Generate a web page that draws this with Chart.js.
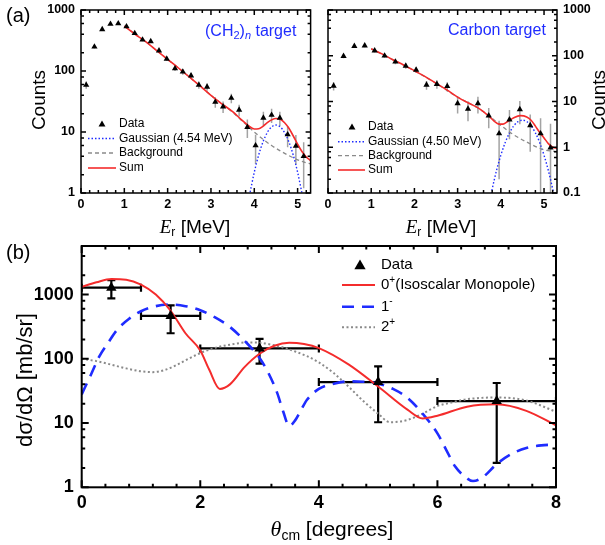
<!DOCTYPE html>
<html>
<head>
<meta charset="utf-8">
<script src="https://cdn.jsdelivr.net/npm/chart.js@4.4.1/dist/chart.umd.min.js"></script>
<style>
  html, body { margin: 0; padding: 0; background: #fff; }
  #wrap { position: relative; width: 605px; height: 545px; overflow: hidden; }
  canvas { position: absolute; }
</style>
</head>
<body>
<div id="wrap">
  <canvas id="cA1" width="318" height="245" style="left:0;top:0"></canvas>
  <canvas id="cA2" width="287" height="245" style="left:318px;top:0"></canvas>
  <canvas id="cB" width="605" height="305" style="left:0;top:240px"></canvas>
</div>
<script>
// ---- (a) (CH2)n target: measured counts + fit components
const ch2E      = [0.12, 0.31, 0.49, 0.68, 0.86, 1.05, 1.24, 1.42, 1.61, 1.80, 1.98, 2.17, 2.35, 2.54, 2.72, 2.91, 3.10, 3.28, 3.47, 3.65, 3.84, 4.03, 4.21, 4.40, 4.59, 4.77, 4.96, 5.14];
const ch2Counts = [59, 250, 480, 590, 600, 535, 415, 325, 306, 215, 158, 110, 97, 84, 59, 55, 31, 26, 36, 23, 12, 6, 17, 19, 17, 9.1, 5.9, 4.0];
const ch2Err    = [8, 16, 22, 24, 24, 23, 20, 18, 17, 15, 12, 10, 10, 9, 8, 7.5, 6, 5.5, 6.5, 5, 4, 3, 4.5, 5, 4.5, 3.5, 3, 2.8];
const ch2SumE   = [1.0, 1.25, 1.5, 1.75, 2.0, 2.25, 2.5, 2.75, 3.0, 3.25, 3.5, 3.7, 3.85, 4.0, 4.1, 4.2, 4.3, 4.4, 4.5, 4.6, 4.7, 4.8, 4.9, 5.0, 5.1, 5.2, 5.3];
const ch2Sum    = [545, 400, 300, 215, 155, 112, 80, 57, 40, 29, 21.5, 16, 13, 11.2, 11.3, 12.4, 14.2, 15.8, 16.6, 16.2, 14.2, 11.5, 8.6, 6.3, 4.8, 3.9, 3.4];
const ch2BgE    = [1.0, 1.5, 2.0, 2.5, 3.0, 3.5, 3.8, 4.0, 4.2, 4.4, 4.6, 4.8, 5.0, 5.15, 5.3];
const ch2Bg     = [545, 300, 155, 80, 40, 21, 13.5, 10, 7.6, 6.0, 4.9, 4.1, 3.5, 3.2, 3.0];
const ch2GausE  = [3.87, 3.9, 4.0, 4.1, 4.2, 4.3, 4.4, 4.5, 4.6, 4.7, 4.8, 4.9, 5.0, 5.1, 5.13];
const ch2Gaus   = [0.8, 1.0, 2.19, 4.16, 6.85, 9.8, 12.1, 13, 12.1, 9.8, 6.85, 4.16, 2.19, 1.0, 0.8];

// ---- (a) Carbon target
const cE      = [0.13, 0.36, 0.61, 0.85, 1.08, 1.31, 1.56, 1.80, 2.04, 2.28, 2.52, 2.76, 3.00, 3.24, 3.47, 3.72, 3.96, 4.20, 4.44, 4.68, 4.92, 5.15];
const cCounts = [22, 98, 162, 166, 129, 100, 74, 60, 49, 23, 24, 21.5, 9.1, 6.9, 9.1, 4.9, 2.0, 4.0, 6.7, 3.0, 2.0, 0.98];
const cErr    = [4.5, 10, 13, 13, 11, 10, 8.5, 8, 7, 5, 5, 5, 3.6, 3.2, 3.6, 2.3, 1.8, 2.5, 3.5, 2.2, 2.3, 2.3];
const cSumE   = [1.0, 1.25, 1.5, 1.75, 2.0, 2.25, 2.5, 2.75, 3.0, 3.25, 3.5, 3.7, 3.85, 3.95, 4.05, 4.15, 4.3, 4.45, 4.6, 4.7, 4.8, 4.9, 5.0, 5.1, 5.2, 5.3];
const cSum    = [142, 110, 82, 63, 47, 35, 25, 18, 12.5, 9.3, 7, 5, 3.7, 3.2, 3.2, 3.6, 4.4, 4.9, 4.6, 3.9, 2.9, 2.1, 1.6, 1.2, 1.0, 0.95];
const cBgE    = [1.0, 1.5, 2.0, 2.5, 3.0, 3.5, 3.8, 4.0, 4.25, 4.6, 5.0, 5.3];
const cBg     = [142, 82, 47, 25, 12.5, 6.9, 4.3, 3.0, 2.0, 1.3, 0.88, 0.8];
const cGausE  = [3.76, 3.8, 3.9, 4.0, 4.1, 4.2, 4.3, 4.4, 4.5, 4.6, 4.7, 4.8, 4.9, 5.0, 5.1, 5.2, 5.24];
const cGaus   = [0.08, 0.122, 0.31, 0.667, 1.26, 2.06, 2.94, 3.63, 3.9, 3.63, 2.94, 2.06, 1.26, 0.667, 0.31, 0.122, 0.08];

// ---- (b) angular distribution
const theta    = [0.5, 1.5, 3, 5, 7];
const thetaErr = [0.5, 0.5, 1, 1, 1];
const xsec     = [1280, 465, 145, 43.5, 22];
const xsecLow  = [870, 250, 84, 10.3, 2.4];
const xsecHigh = [1680, 680, 204, 76, 42];
const monoT = [0, 0.25, 0.5, 0.75, 1.0, 1.25, 1.5, 1.75, 2.0, 2.15, 2.33, 2.5, 2.75, 3.0, 3.25, 3.5, 3.75, 4.0, 4.5, 5.0, 5.5, 5.75, 6.0, 6.5, 7.0, 7.5, 8.0];
const mono  = [1320, 1550, 1740, 1700, 1430, 1000, 560, 250, 135, 68, 34, 40, 75, 120, 160, 178, 170, 147, 82, 37, 16, 11.8, 13, 18, 19.6, 15.5, 9.2];
const dipT  = [0, 0.15, 0.3, 0.45, 0.6, 0.8, 1.0, 1.25, 1.5, 1.75, 2.0, 2.25, 2.5, 2.75, 3.0, 3.15, 3.3, 3.4, 3.5, 3.6, 3.7, 3.8, 4.0, 4.25, 4.5, 4.75, 5.0, 5.25, 5.5, 5.75, 6.0, 6.15, 6.3, 6.45, 6.6, 6.75, 7.0, 7.25, 7.5, 7.75, 8.0];
const dip   = [28, 55, 110, 180, 285, 420, 550, 660, 700, 660, 570, 440, 313, 190, 103, 60, 29, 15, 9, 11, 16, 23, 34, 41, 44.5, 44, 41, 34, 24.5, 14, 6.9, 3.8, 2.1, 1.5, 1.25, 1.4, 2.3, 3.3, 4.1, 4.5, 4.6];
const quadT = [0, 0.25, 0.5, 0.75, 1.0, 1.2, 1.4, 1.6, 1.8, 2.0, 2.25, 2.5, 2.8, 3.0, 3.2, 3.4, 3.6, 3.8, 4.0, 4.25, 4.5, 4.75, 5.0, 5.2, 5.35, 5.5, 5.75, 6.0, 6.25, 6.5, 7.0, 7.5, 8.0];
const quad  = [100, 92, 81, 71, 64, 62, 67, 80, 100, 123, 148, 166, 180, 178, 166, 150, 130, 110, 88, 60, 37, 22, 14, 10.3, 10.5, 11.2, 14, 18.4, 21, 23.5, 25, 22.4, 15];

// tick labels
const aTicksX = [0, 1, 2, 3, 4, 5];
const aTicksY1 = [1, 10, 100, 1000];
const aTicksY2 = [0.1, 1, 10, 100, 1000];
const bTicksX = [0, 2, 4, 6, 8];
const bTicksY = [1, 10, 100, 1000];

const SANS = '"Liberation Sans", Arial, Helvetica, sans-serif';
const SERIF = '"Liberation Serif", "Times New Roman", serif';
const RED = '#f42c2c', BLUE = '#1f2cff', GRAY = '#8a8a8a';

const pts = (xs, ys) => xs.map((x, i) => ({ x, y: ys[i] }));
const range = (a, b, step) => { const out = []; for (let v = a; v <= b + 1e-9; v += step) out.push(+v.toFixed(4)); return out; };
const logMinor = (decades, muls) => decades.flatMap(d => muls.map(m => d * m));

const curve = (xs, ys, color, width, dash, order) => ({
  data: pts(xs, ys), showLine: true, borderColor: color, borderWidth: width,
  borderDash: dash, pointRadius: 0, cubicInterpolationMode: 'monotone', order
});
const marks = (xs, ys, r) => ({
  data: pts(xs, ys), showLine: false, pointStyle: 'triangle', pointRadius: r,
  backgroundColor: '#000', borderColor: '#000', borderWidth: 0, order: 0
});

// text with sub/superscripts: parts = [text, font, dy]
function rich(ctx, parts, x, y, align) {
  let w = 0;
  parts.forEach(p => { ctx.font = p[1]; w += ctx.measureText(p[0]).width; });
  let cx = align === 'center' ? x - w / 2 : x;
  ctx.textAlign = 'left';
  ctx.textBaseline = 'middle';
  parts.forEach(p => { ctx.font = p[1]; ctx.fillText(p[0], cx, y + (p[2] || 0)); cx += ctx.measureText(p[0]).width; });
}
function rotated(ctx, parts, x, y) {
  ctx.save();
  ctx.translate(x, y);
  ctx.rotate(-Math.PI / 2);
  rich(ctx, parts, 0, 0, 'center');
  ctx.restore();
}
function triangle(ctx, x, y, r) {
  ctx.beginPath();
  ctx.moveTo(x, y - r);
  ctx.lineTo(x + r * Math.sin(2 * Math.PI / 3), y - r * Math.cos(2 * Math.PI / 3));
  ctx.lineTo(x + r * Math.sin(4 * Math.PI / 3), y - r * Math.cos(4 * Math.PI / 3));
  ctx.closePath();
  ctx.fillStyle = '#000';
  ctx.fill();
}
function sample(ctx, x0, x1, y, color, width, dash) {
  ctx.save();
  ctx.strokeStyle = color; ctx.lineWidth = width; ctx.setLineDash(dash);
  ctx.beginPath(); ctx.moveTo(x0, y); ctx.lineTo(x1, y); ctx.stroke();
  ctx.restore();
}

// frame with inward ticks on all four sides, error bars, titles and legend
function deco(cfg) {
  return {
    id: 'deco',
    beforeDatasetsDraw(chart) {
      const { ctx, chartArea: a } = chart;
      ctx.save();
      ctx.beginPath();
      ctx.rect(a.left, a.top, a.right - a.left, a.bottom - a.top);
      ctx.clip();
      cfg.errors(ctx, chart.scales.x, chart.scales.y);
      ctx.restore();
    },
    afterDatasetsDraw(chart) {
      const { ctx, chartArea: a, scales: { x, y } } = chart;
      ctx.save();
      ctx.strokeStyle = '#000';
      ctx.lineWidth = cfg.lw;
      ctx.beginPath();
      const tx = (v, len) => {
        const p = x.getPixelForValue(v);
        ctx.moveTo(p, a.bottom); ctx.lineTo(p, a.bottom - len);
        ctx.moveTo(p, a.top); ctx.lineTo(p, a.top + len);
      };
      const ty = (v, len) => {
        const p = y.getPixelForValue(v);
        ctx.moveTo(a.left, p); ctx.lineTo(a.left + len, p);
        ctx.moveTo(a.right, p); ctx.lineTo(a.right - len, p);
      };
      cfg.xMinor.forEach(v => tx(v, cfg.minorLen));
      cfg.xMajor.forEach(v => tx(v, cfg.majorLen));
      cfg.yMinor.filter(v => v > y.min && v < y.max).forEach(v => ty(v, cfg.minorLen));
      cfg.yMajor.forEach(v => ty(v, cfg.majorLen));
      ctx.stroke();
      ctx.strokeRect(a.left, a.top, a.right - a.left, a.bottom - a.top);
      ctx.restore();
    },
    afterDraw(chart) {
      const ctx = chart.ctx;
      ctx.save();
      ctx.fillStyle = '#000';
      cfg.texts(ctx);
      ctx.restore();
    }
  };
}

function makeChart(id, cfg) {
  const tickFont = { family: SANS, size: cfg.tickSize, weight: 'bold' };
  return new Chart(document.getElementById(id), {
    type: 'scatter',
    data: { datasets: cfg.datasets },
    options: {
      responsive: false,
      animation: false,
      devicePixelRatio: 1,
      events: [],
      layout: { padding: cfg.padding },
      plugins: { legend: { display: false }, tooltip: { enabled: false } },
      scales: {
        x: {
          type: 'linear', min: cfg.xMin, max: cfg.xMax,
          grid: { display: false, drawTicks: false }, border: { display: false },
          afterBuildTicks: s => { s.ticks = cfg.xMajor.map(v => ({ value: v })); },
          // fixed box size, no label overhang so the plot area lands where it should
          afterFit: s => { s.height = cfg.xHeight; s.paddingLeft = 0; s.paddingRight = 0; },
          ticks: { autoSkip: false, maxRotation: 0, padding: cfg.xPad, color: '#000', font: tickFont, callback: v => String(v) }
        },
        y: {
          type: 'logarithmic', position: cfg.yPos, min: cfg.yMin, max: cfg.yMax,
          grid: { display: false, drawTicks: false }, border: { display: false },
          afterBuildTicks: s => { s.ticks = cfg.yMajor.map(v => ({ value: v })); },
          afterFit: s => { s.width = cfg.yWidth; s.paddingTop = 0; s.paddingBottom = 0; },
          ticks: { autoSkip: false, padding: cfg.yPad, color: '#000', font: tickFont, callback: v => String(v) }
        }
      }
    },
    plugins: [deco(cfg)]
  });
}

// gray vertical error bars for panel (a)
const grayErrors = (xs, ys, es) => (ctx, x, y) => {
  ctx.strokeStyle = '#a3a3a3';
  ctx.lineWidth = 1.5;
  ctx.beginPath();
  xs.forEach((v, i) => {
    const px = x.getPixelForValue(v);
    const lo = Math.max(ys[i] - es[i], y.min / 10);
    ctx.moveTo(px, y.getPixelForValue(ys[i] + es[i]));
    ctx.lineTo(px, y.getPixelForValue(lo));
  });
  ctx.stroke();
};

function legendA(ctx, xTri, x0, x1, xText, rows, gaussLabel) {
  ctx.font = `12px ${SANS}`;
  ctx.textAlign = 'left';
  ctx.textBaseline = 'middle';
  triangle(ctx, xTri, rows[0] + 0.5, 4);
  sample(ctx, x0, x1, rows[1], BLUE, 1.4, [1.5, 2]);
  sample(ctx, x0, x1, rows[2], GRAY, 1.3, [4, 3]);
  sample(ctx, x0, x1, rows[3], RED, 1.6, []);
  ctx.fillStyle = '#000';
  ['Data', gaussLabel, 'Background', 'Sum'].forEach((t, i) => ctx.fillText(t, xText, rows[i]));
}

const aCommon = {
  xMin: 0, xMax: 5.3, xMajor: aTicksX, xMinor: range(0, 5.3, 0.2),
  xHeight: 25, xPad: 4, yWidth: 81, yPad: 6, tickSize: 12.5,
  lw: 1.5, majorLen: 5, minorLen: 3
};

makeChart('cA1', Object.assign({}, aCommon, {
  padding: { left: 0, right: 7.4, top: 10, bottom: 27 },
  yPos: 'left', yMin: 1, yMax: 1000, yMajor: aTicksY1, yMinor: logMinor([1, 10, 100], [2, 4, 6, 8]),
  datasets: [
    marks(ch2E, ch2Counts, 3.6),
    curve(ch2SumE, ch2Sum, RED, 1.6, [], 1),
    curve(ch2BgE, ch2Bg, GRAY, 1.3, [4, 3], 2),
    curve(ch2GausE, ch2Gaus, BLUE, 1.4, [1.5, 2], 3)
  ],
  errors: grayErrors(ch2E, ch2Counts, ch2Err),
  texts(ctx) {
    ctx.font = `20px ${SANS}`;
    ctx.textAlign = 'left'; ctx.textBaseline = 'middle';
    ctx.fillText('(a)', 6, 16);
    rotated(ctx, [['Counts', `19px ${SANS}`]], 40, 100);
    rich(ctx, [['E', `italic 19px ${SERIF}`], ['r', `12px ${SANS}`, 5], [' [MeV]', `19px ${SANS}`]], 195, 228, 'center');
    ctx.fillStyle = BLUE;
    rich(ctx, [['(CH', `16px ${SANS}`], ['2', `11px ${SANS}`, 4], [')', `16px ${SANS}`], ['n', `italic 11px ${SANS}`, 4], [' target', `16px ${SANS}`]], 205, 32, 'left');
    legendA(ctx, 102, 88, 116, 119, [124, 138.5, 153, 168], 'Gaussian (4.54 MeV)');
  }
}));

makeChart('cA2', Object.assign({}, aCommon, {
  padding: { left: 10, right: 0, top: 10, bottom: 27 },
  yPos: 'right', yWidth: 48, yMin: 0.1, yMax: 1000, yMajor: aTicksY2, yMinor: logMinor([0.1, 1, 10, 100], [2, 4, 6, 8]),
  datasets: [
    marks(cE, cCounts, 3.6),
    curve(cSumE, cSum, RED, 1.6, [], 1),
    curve(cBgE, cBg, GRAY, 1.3, [4, 3], 2),
    curve(cGausE, cGaus, BLUE, 1.4, [1.5, 2], 3)
  ],
  errors: grayErrors(cE, cCounts, cErr),
  texts(ctx) {
    rotated(ctx, [['Counts', `19px ${SANS}`]], 282, 100);
    rich(ctx, [['E', `italic 19px ${SERIF}`], ['r', `12px ${SANS}`, 5], [' [MeV]', `19px ${SANS}`]], 123, 228, 'center');
    ctx.fillStyle = BLUE;
    rich(ctx, [['Carbon target', `16px ${SANS}`]], 130, 31, 'left');
    legendA(ctx, 34, 20, 47, 50, [127, 141.7, 155.7, 170], 'Gaussian (4.50 MeV)');
  }
}));

makeChart('cB', {
  padding: { left: 0, right: 49, top: 5, bottom: 32.7 },
  xMin: 0, xMax: 8, xMajor: bTicksX, xMinor: range(0, 8, 0.4),
  yPos: 'left', yMin: 1, yMax: 5700, yMajor: bTicksY, yMinor: logMinor([1, 10, 100, 1000], [2, 4, 6, 8]),
  xHeight: 25, xPad: 5, yWidth: 81.7, yPad: 8, tickSize: 18,
  lw: 2, majorLen: 7, minorLen: 3.5,
  datasets: [
    marks(theta, xsec, 6),
    curve(monoT, mono, RED, 2, [], 1),
    curve(dipT, dip, BLUE, 2.6, [12, 8], 2),
    curve(quadT, quad, GRAY, 2, [2, 2.5], 3)
  ],
  errors(ctx, x, y) {
    ctx.strokeStyle = '#000';
    ctx.lineWidth = 2.2;
    ctx.beginPath();
    theta.forEach((t, i) => {
      const px = x.getPixelForValue(t), py = y.getPixelForValue(xsec[i]);
      const xl = x.getPixelForValue(t - thetaErr[i]), xr = x.getPixelForValue(t + thetaErr[i]);
      const yt = y.getPixelForValue(xsecHigh[i]), yb = y.getPixelForValue(xsecLow[i]);
      ctx.moveTo(xl, py); ctx.lineTo(xr, py);
      ctx.moveTo(xl, py - 4); ctx.lineTo(xl, py + 4);
      ctx.moveTo(xr, py - 4); ctx.lineTo(xr, py + 4);
      ctx.moveTo(px, yt); ctx.lineTo(px, yb);
      ctx.moveTo(px - 4, yt); ctx.lineTo(px + 4, yt);
      ctx.moveTo(px - 4, yb); ctx.lineTo(px + 4, yb);
    });
    ctx.stroke();
  },
  texts(ctx) {
    ctx.font = `20px ${SANS}`;
    ctx.textAlign = 'left'; ctx.textBaseline = 'middle';
    ctx.fillText('(b)', 6, 13);
    rotated(ctx, [['dσ/dΩ [mb/sr]', `22px ${SANS}`]], 26, 140);
    rich(ctx, [['θ', `italic 22px ${SERIF}`], ['cm', `14px ${SANS}`, 6], [' [degrees]', `21px ${SANS}`]], 332, 290, 'center');
    // legend
    triangle(ctx, 360, 26, 6.5);
    sample(ctx, 342, 375, 45, RED, 2, []);
    sample(ctx, 342, 375, 66.7, BLUE, 2.6, [12, 8]);
    sample(ctx, 342, 375, 87.3, GRAY, 2, [2, 2.5]);
    ctx.fillStyle = '#000';
    const L = `15px ${SANS}`, S = `10px ${SANS}`;
    rich(ctx, [['Data', L]], 381, 25, 'left');
    rich(ctx, [['0', L], ['+', S, -5], ['(Isoscalar Monopole)', L]], 381, 45, 'left');
    rich(ctx, [['1', L], ['-', S, -5]], 381, 66.7, 'left');
    rich(ctx, [['2', L], ['+', S, -5]], 381, 87.3, 'left');
  }
});
</script>
</body>
</html>
